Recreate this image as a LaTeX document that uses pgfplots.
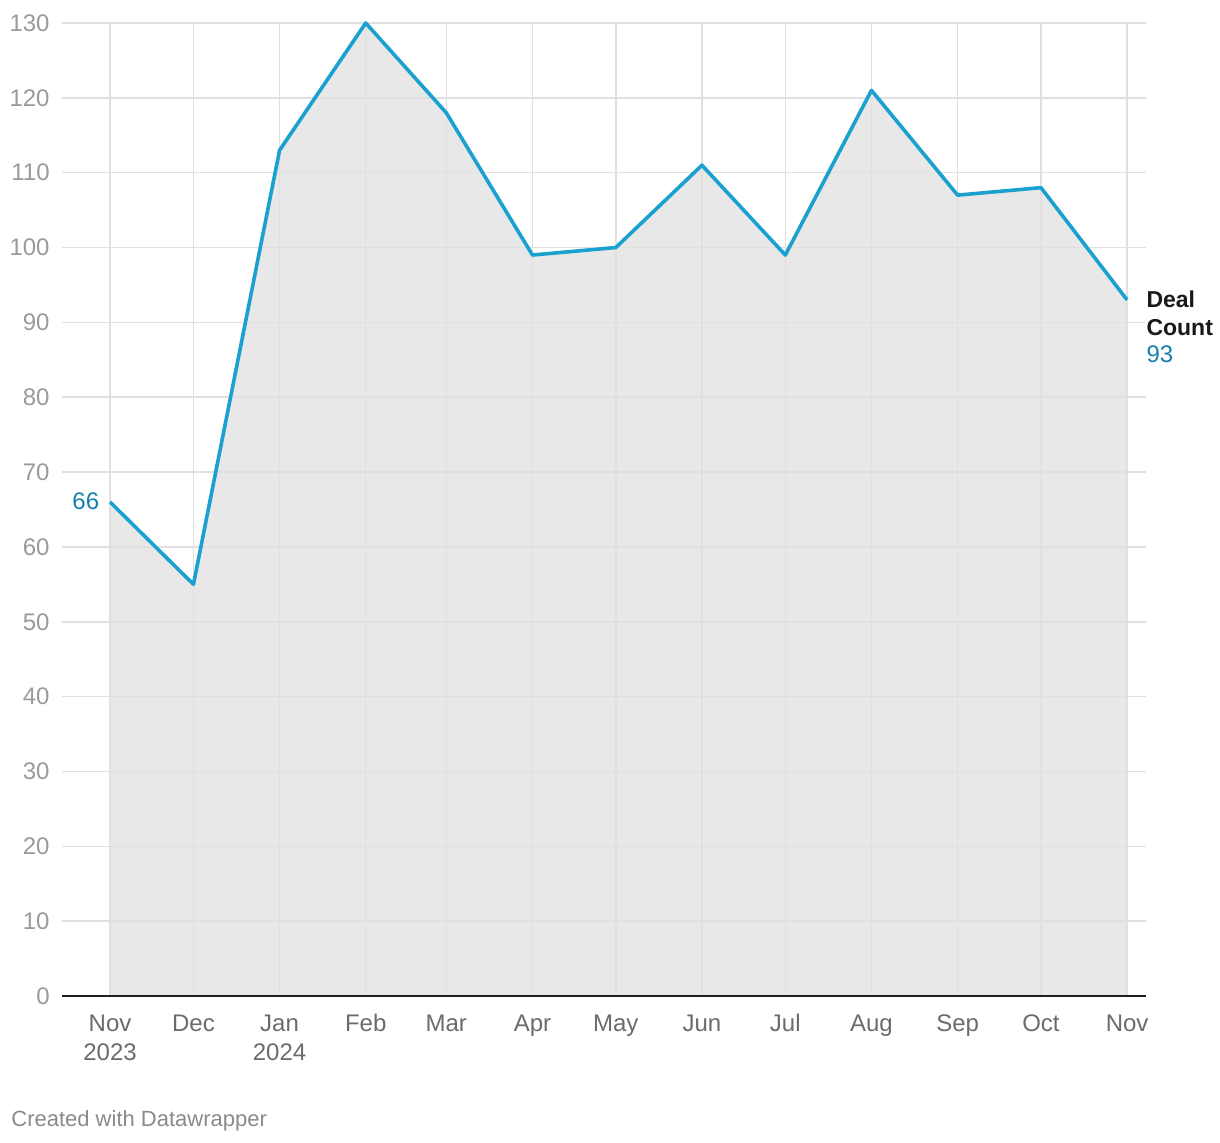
\documentclass[border=0pt]{standalone}
\usepackage{pgfplots}
\pgfplotsset{compat=1.18}
\usepackage{fontspec}
\setmainfont{Liberation Sans}
\definecolor{lineblue}{HTML}{1BA1D0}
\definecolor{lblblue}{HTML}{1680AD}
\definecolor{fillgray}{HTML}{E8E8E8}
\definecolor{gridgray}{HTML}{E0E0E0}
\definecolor{ytickgray}{HTML}{9A9A9A}
\definecolor{xtickgray}{HTML}{6B6B6B}
\definecolor{footgray}{HTML}{8A8A8A}
\newcommand{\two}[2]{\begin{tabular}[t]{@{}c@{}}#1\\#2\end{tabular}}
\pgfplotsset{set layers}
\begin{document}
\begin{tikzpicture}
\begin{axis}[
  at={(31pt,73pt)}, anchor=south west,
  scale only axis, width=542pt, height=486.5pt,
  xmin=-17.3, xmax=372.8, ymin=0, ymax=130,
  clip=false,
  axis x line=bottom, axis y line=left,
  x axis line style={draw=black!88, line width=1.2pt, -},
  y axis line style={draw=none},
  major tick length=0pt,
  xtick={0,30,61,92,121,152,182,213,243,274,305,335,366},
  xticklabels={{\two{Nov}{2023}},Dec,{\two{Jan}{2024}},Feb,Mar,Apr,May,Jun,Jul,Aug,Sep,Oct,Nov},
  ytick={0,10,...,130},
  /pgf/number format/assume math mode=true,
  xmajorgrids, ymajorgrids,
  grid style={draw=gridgray, line width=0.75pt},
  yticklabel style={anchor=east, inner sep=0pt, xshift=-6pt, text=ytickgray, font=\fontsize{12}{14}\selectfont},
  xticklabel style={anchor=base, inner sep=0pt, yshift=-17.5pt, text=xtickgray, font=\fontsize{12}{14.5}\selectfont},
]
\addplot[fill=fillgray, draw=none, on layer=axis background] coordinates {
(0,66) (30,55) (61,113) (92,130) (121,118) (152,99) (182,100) (213,111) (243,99) (274,121) (305,107) (335,108) (366,93)
} \closedcycle;
\addplot[lineblue, line width=1.8pt, line join=round] coordinates {
(0,66) (30,55) (61,113) (92,130) (121,118) (152,99) (182,100) (213,111) (243,99) (274,121) (305,107) (335,108) (366,93)
};
\node[anchor=base east, inner sep=0pt, text=lblblue, font=\fontsize{12}{14}\selectfont, xshift=-5.25pt, yshift=-3.5pt] at (axis cs:0,66) {66};
\node[anchor=base west, inner sep=0pt, text=black!90, font=\fontsize{11.5}{14}\selectfont\bfseries, xshift=9.5pt, yshift=-3.85pt] at (axis cs:366,93) {Deal};
\node[anchor=base west, inner sep=0pt, text=black!90, font=\fontsize{11.5}{14}\selectfont\bfseries, xshift=9.5pt, yshift=-18pt] at (axis cs:366,93) {Count};
\node[anchor=base west, inner sep=0pt, text=lblblue, font=\fontsize{12}{14}\selectfont, xshift=9.5pt, yshift=-31.5pt] at (axis cs:366,93) {93};
\end{axis}
\node[anchor=base west, inner sep=0pt, text=footgray, font=\fontsize{11}{13}\selectfont] at (5.5pt,8pt) {Created with Datawrapper};
\path (0pt,0pt) rectangle (610pt,571pt);
\end{tikzpicture}
\end{document}
